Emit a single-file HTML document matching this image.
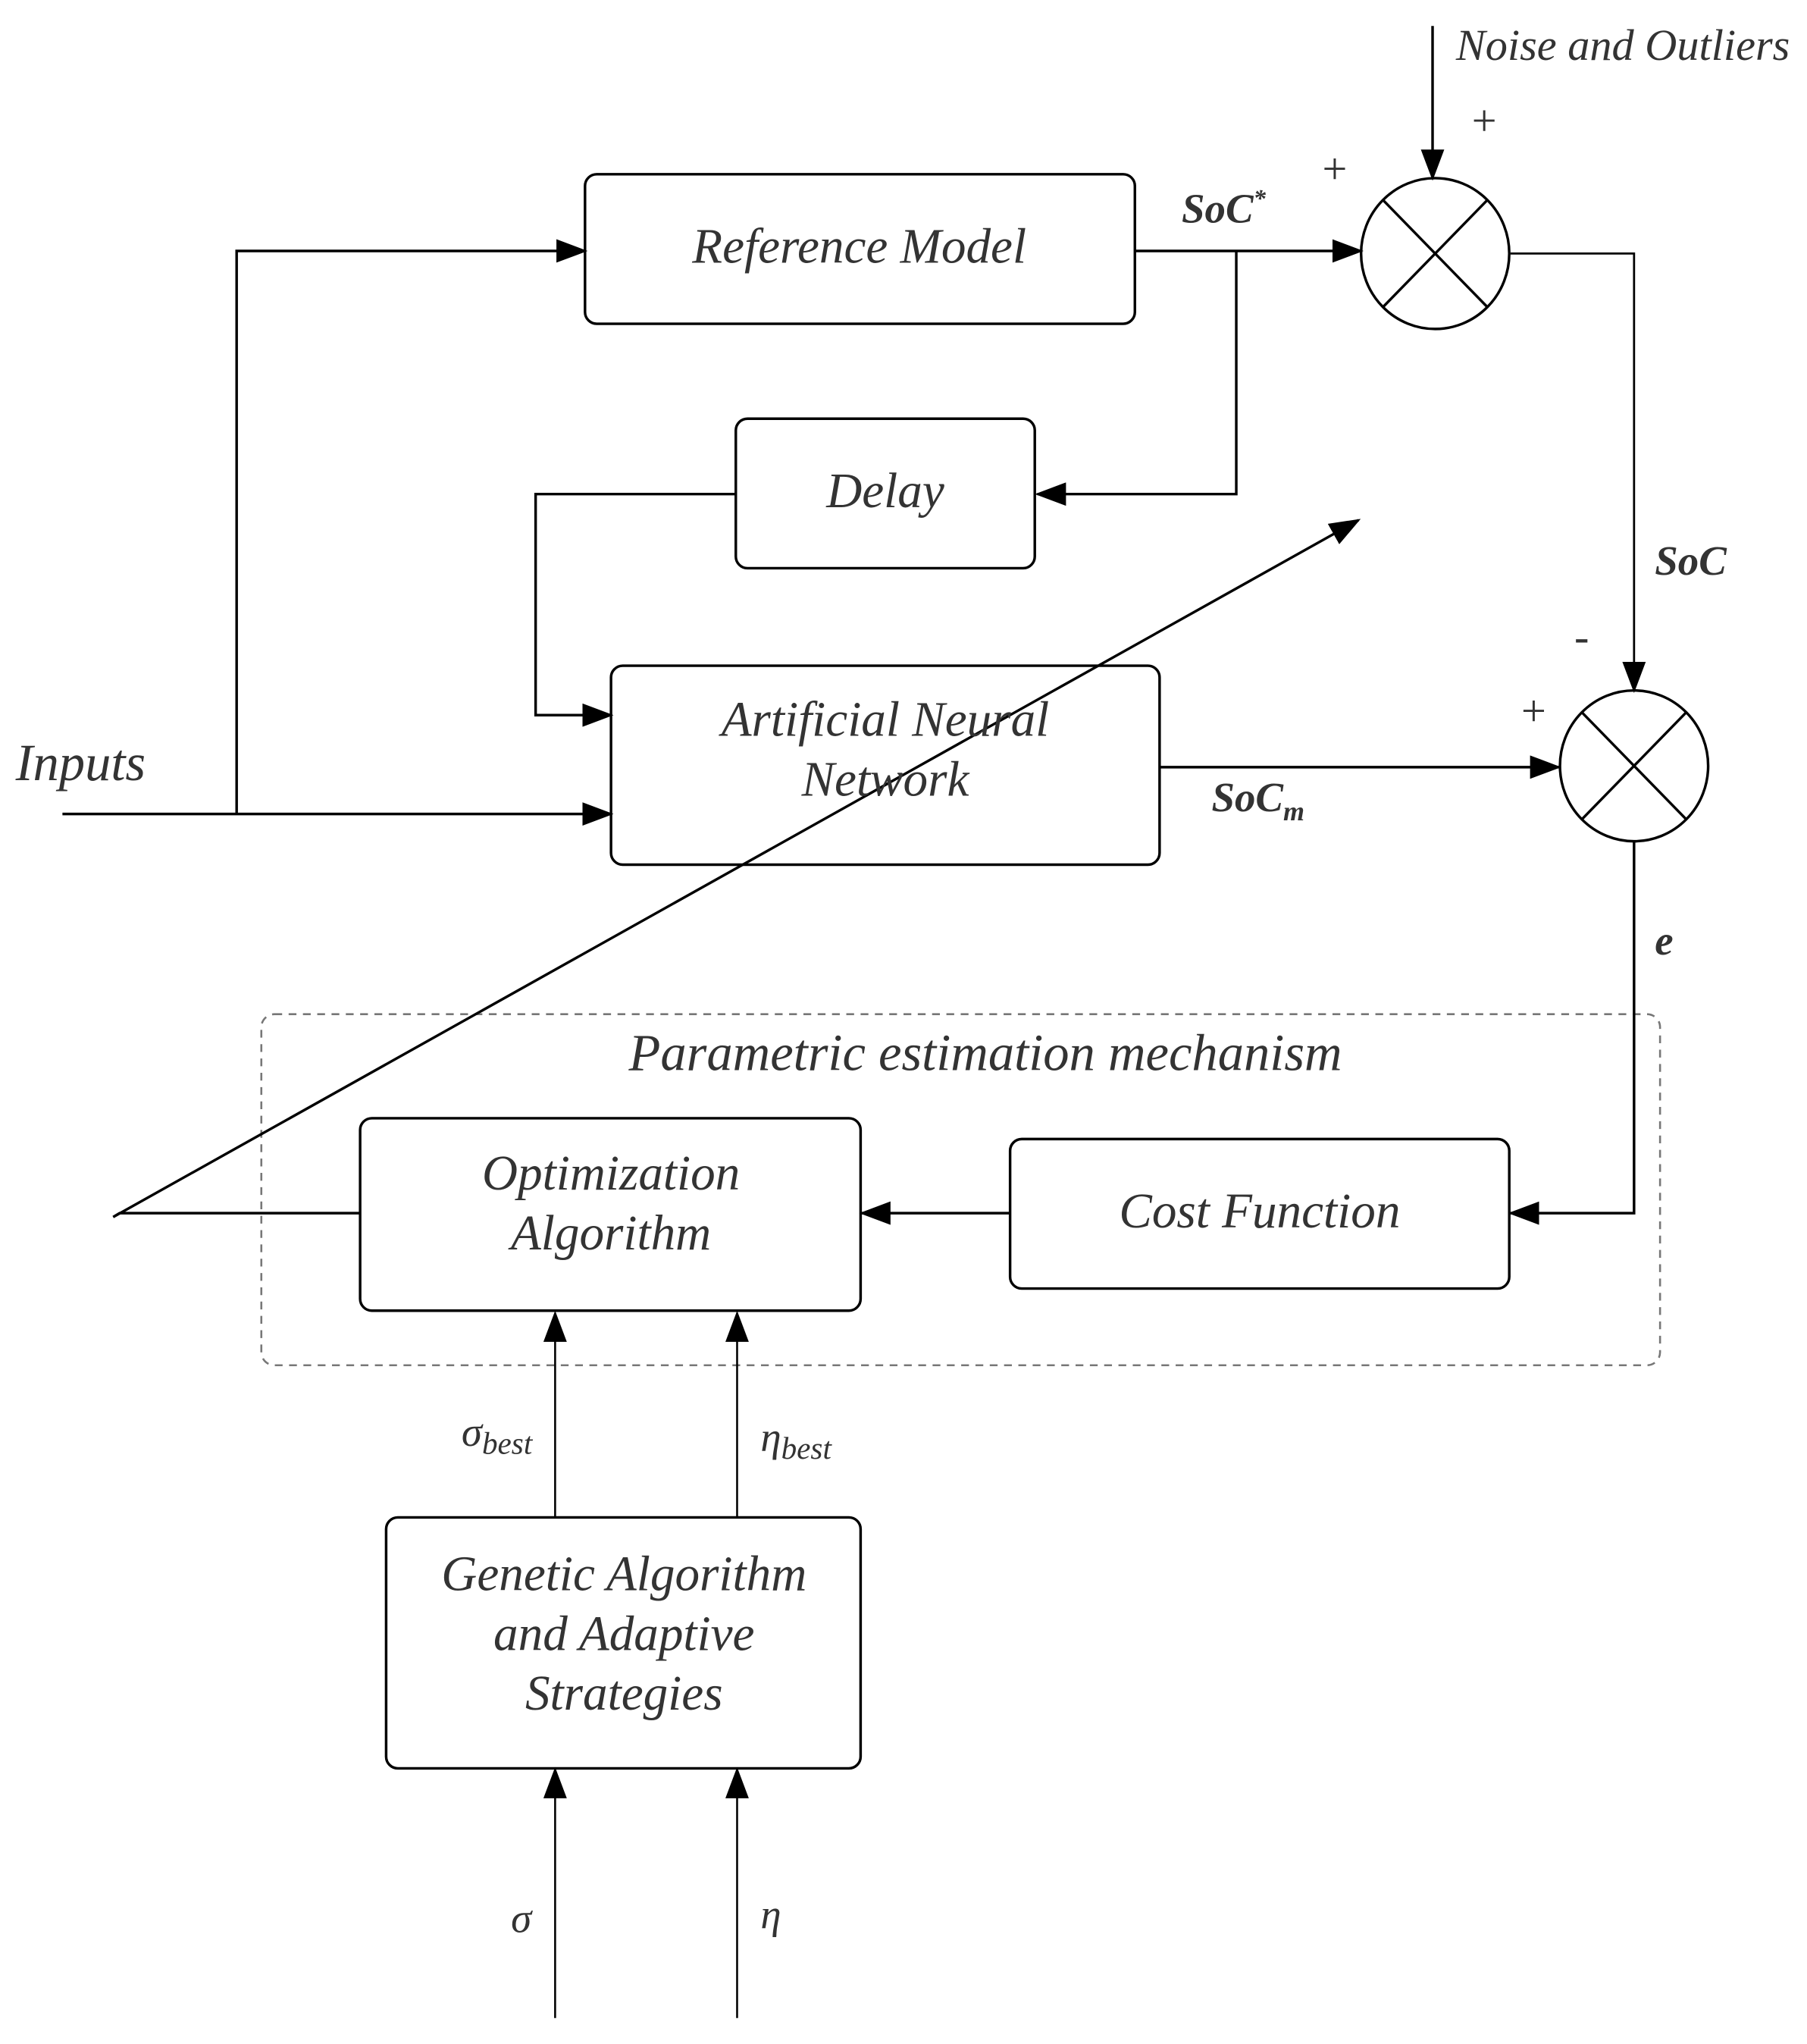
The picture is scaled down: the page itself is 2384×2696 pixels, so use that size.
<!DOCTYPE html>
<html><head><meta charset="utf-8"><style>
html,body{margin:0;padding:0;background:#fff;}
svg{display:block;}
text{font-family:"Liberation Serif","DejaVu Serif",serif;font-style:italic;fill:#333;}
</style></head><body>
<svg width="2384" height="2696" viewBox="0 0 1390 1572" xmlns="http://www.w3.org/2000/svg">
<defs>
<marker id="a" markerWidth="24" markerHeight="18" refX="22" refY="9" orient="auto" markerUnits="userSpaceOnUse">
<path d="M0,0 L24,9 L0,18 Z" fill="#000"/></marker>
</defs>
<g fill="none" stroke="#000" stroke-width="2">
<rect x="450" y="134" width="423" height="115" rx="9"/>
<rect x="566" y="322" width="230" height="115" rx="9"/>
<rect x="470" y="512" width="422" height="153" rx="9"/>
<rect x="201" y="780" width="1076" height="270" rx="10" stroke="#777" stroke-dasharray="6,5" stroke-width="1.5"/>
<rect x="777" y="876" width="384" height="115" rx="9"/>
<rect x="277" y="860" width="385" height="148" rx="9"/>
<rect x="297" y="1167" width="365" height="193" rx="9"/>
<ellipse cx="1104" cy="195" rx="57" ry="58"/>
<line x1="1064" y1="154" x2="1144" y2="236"/><line x1="1144" y1="154" x2="1064" y2="236"/>
<ellipse cx="1257" cy="589" rx="57" ry="58"/>
<line x1="1217" y1="548" x2="1297" y2="630"/><line x1="1297" y1="548" x2="1217" y2="630"/>
<line x1="1102" y1="20" x2="1102" y2="137" marker-end="url(#a)"/>
<line x1="873" y1="193" x2="1047" y2="193" marker-end="url(#a)"/>
<polyline points="951,193 951,380 798,380" marker-end="url(#a)"/>
<polyline points="566,380 412,380 412,550 470,550" marker-end="url(#a)"/>
<line x1="48" y1="626" x2="470" y2="626" marker-end="url(#a)"/>
<polyline points="182,626 182,193 450,193" marker-end="url(#a)"/>
<line x1="892" y1="590" x2="1199" y2="590" marker-end="url(#a)"/>
<polyline points="1162,195 1257,195 1257,531" marker-end="url(#a)" stroke-width="1.6"/>
<polyline points="1257,647 1257,933 1162,933" marker-end="url(#a)"/>
<line x1="777" y1="933" x2="663" y2="933" marker-end="url(#a)"/>
<polyline points="277,933 92,933 87,936 1045,400" marker-end="url(#a)"/>
<line x1="427" y1="1167" x2="427" y2="1010" marker-end="url(#a)" stroke-width="1.5"/>
<line x1="567" y1="1167" x2="567" y2="1010" marker-end="url(#a)" stroke-width="1.5"/>
<line x1="427" y1="1552" x2="427" y2="1361" marker-end="url(#a)" stroke-width="1.5"/>
<line x1="567" y1="1552" x2="567" y2="1361" marker-end="url(#a)" stroke-width="1.5"/>
</g>
<g font-size="38" text-anchor="middle">
<text x="661" y="202">Reference Model</text>
<text x="681" y="390">Delay</text>
<text x="681" y="566">Artificial Neural</text>
<text x="681" y="612">Network</text>
<text x="758" y="823" font-size="40">Parametric estimation mechanism</text>
<text x="969" y="944">Cost Function</text>
<text x="470" y="915">Optimization</text>
<text x="470" y="961">Algorithm</text>
<text x="480" y="1223">Genetic Algorithm</text>
<text x="480" y="1269">and Adaptive</text>
<text x="480" y="1315">Strategies</text>
</g>
<text x="12" y="600" font-size="40">Inputs</text>
<text x="1120" y="46" font-size="34">Noise and Outliers</text>
<g font-size="34" style="font-style:normal">
<text x="1130" y="104">+</text><text x="1015" y="141">+</text>
<text x="1211" y="501">-</text><text x="1168" y="558">+</text>
</g>
<g font-size="32" font-weight="bold">
<text x="909" y="171">SoC<tspan font-size="19" dy="-12">*</tspan></text>
<text x="1273" y="442">SoC</text>
<text x="932" y="624">SoC<tspan font-size="21" dy="7">m</tspan></text>
<text x="1273" y="734">e</text>
</g>
<g font-size="32">
<text x="355" y="1112">σ<tspan font-size="24" dy="6">best</tspan></text>
<text x="585" y="1116">η<tspan font-size="24" dy="6">best</tspan></text>
<text x="393" y="1486">σ</text>
<text x="585" y="1483">η</text>
</g>
</svg>
</body></html>
